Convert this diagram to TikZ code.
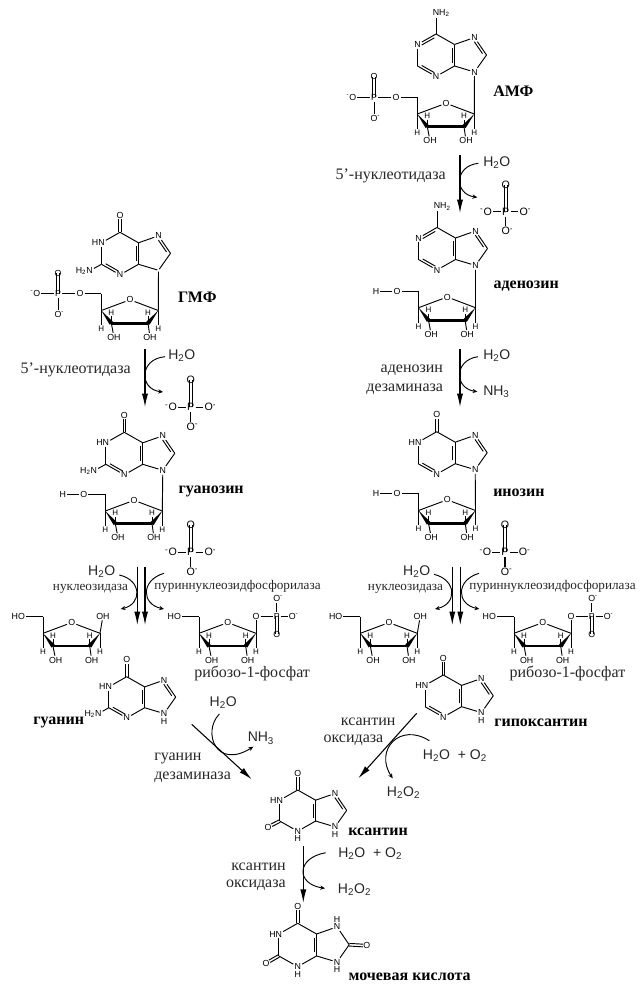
\documentclass[tikz,border=0pt]{standalone}
\usepackage{fontspec}
\setmainfont{Liberation Serif}
\setsansfont{Liberation Sans}
\usetikzlibrary{calc,arrows.meta}
\tikzset{
  bond/.style={line width=0.7pt,black},
  atom/.style={font=\sffamily\fontsize{6.6}{7}\selectfont,inner sep=0.9pt,outer sep=0pt},
  satom/.style={font=\sffamily\fontsize{6}{6.5}\selectfont,inner sep=0.8pt,outer sep=0pt},
  patom/.style={font=\sffamily\fontsize{8}{9}\selectfont,inner sep=1pt,outer sep=0pt},
  enz/.style={font=\fontsize{12}{13}\selectfont,inner sep=0pt,text=black!85},
  smenz/.style={font=\fontsize{9.9}{12}\selectfont,inner sep=0pt,text=black!85},
  molname/.style={font=\bfseries\fontsize{12}{13}\selectfont,inner sep=0pt},
  chem/.style={font=\sffamily\fontsize{10.5}{11}\selectfont,inner sep=0pt,text=black!85},
  rxn/.style={line width=0.8pt,-{Latex[length=10pt,width=4.6pt]}},
  cur/.style={line width=0.7pt,-{Stealth[length=3.6pt,width=3.2pt]}},
}
\newcommand\sbd[2]{\draw[bond] (#1) -- (#2);}
\newcommand\dbd[3]{\draw[bond] (#1) -- (#2);
  \draw[bond] ($(#1)!.16!(#2)!1.9pt!#3:(#2)$) -- ($(#2)!.16!(#1)!1.9pt!-#3:(#1)$);}
\newcommand\twol[3][]{%
  \draw[bond,#1] ($(#2)!1pt!90:(#3)$) -- ($(#3)!1pt!-90:(#2)$);
  \draw[bond,#1] ($(#2)!1pt!-90:(#3)$) -- ($(#3)!1pt!90:(#2)$);}
% ring: prefix x y scale N1 N3 N7 N9
\newcommand\pring[8]{%
  \begin{scope}[shift={(#2,#3)},scale=#4]
    \coordinate (#1C6) at (0,0);
    \coordinate (#1C2) at (-18.5,32);
    \coordinate (#1C4) at (18.5,32);
    \coordinate (#1C5) at (18.5,10.5);
    \coordinate (#1C8) at (50.5,21);
    \node[atom] (#1N1) at (-18.5,10.5) {#5};
    \node[atom] (#1N3) at (0,42.5) {#6};
    \node[atom] (#1N7) at (38.5,3.5) {#7};
    \node[atom] (#1N9) at (38.5,38) {#8};
  \end{scope}
  \sbd{#1N1}{#1C2}\sbd{#1N3}{#1C4}\sbd{#1C5}{#1C6}\sbd{#1C5}{#1N7}
  \sbd{#1C8}{#1N9}\sbd{#1N9}{#1C4}\dbd{#1C4}{#1C5}{90}}
\newcommand\keto[1]{%
  \node[atom] (#1O6) at ($(#1C6)+(0,-17)$) {O};
  \twol[shorten >=3pt]{#1C6}{#1O6}\sbd{#1C6}{#1N1}}
\newcommand\aminosix[1]{%
  \node[atom] (#1A6) at ($(#1C6)+(0,-21)$) {N\rlap{H\textsubscript{2}}};
  \sbd{#1C6}{#1A6}\dbd{#1C6}{#1N1}{90}}
\newcommand\sugarb[3]{%
  \begin{scope}[shift={(#2,#3)}]
    \coordinate (#1c1) at (0,0);
    \coordinate (#1c2) at (-10.3,12.7);
    \coordinate (#1c3) at (-47,12.7);
    \coordinate (#1c4) at (-57,0);
    \coordinate (#1c5) at (-57,-16.7);
    \node[atom] (#1ro) at (-28.3,-10.7) {O};
    \node[satom] (#1h1) at (0,18.7) {H};
    \node[satom] (#1h2) at (-10.3,2) {H};
    \node[satom] (#1h3) at (-47,2) {H};
    \node[satom] (#1h4) at (-57,18.7) {H};
    \node[atom] (#1o2) at (-8.3,26.7) {OH};
    \node[atom] (#1o3) at (-44.3,26.7) {OH};
  \end{scope}
  \sbd{#1c4}{#1ro}\sbd{#1ro}{#1c1}\sbd{#1c4}{#1c5}
  \fill ($(#1c1)$) -- ($(#1c2)+(-1.6,-1.5)$) -- ($(#1c2)+(1.6,1.5)$) -- cycle;
  \fill ($(#1c4)$) -- ($(#1c3)+(1.6,-1.5)$) -- ($(#1c3)+(-1.6,1.5)$) -- cycle;
  \draw[line width=2.2pt,line cap=round] (#1c3) -- (#1c2);
  \sbd{#1c1}{#1h1}\sbd{#1c2}{#1h2}\sbd{#1c3}{#1h3}\sbd{#1c4}{#1h4}
  \sbd{#1c2}{#1o2}\sbd{#1c3}{#1o3}}
% 5'-OH with explicit H
\newcommand\hchain[1]{%
  \node[atom] (#1o5) at ($(#1c5)+(-21.5,0)$) {O};
  \node[atom] (#1hh) at ($(#1c5)+(-42.5,0)$) {H};
  \sbd{#1c5}{#1o5}\sbd{#1o5}{#1hh}}
% free HO at 5'
\newcommand\hochain[1]{%
  \node[atom] (#1o5) at ($(#1c5)+(-21.5,0)$) {\llap{H}O};
  \sbd{#1c5}{#1o5}}
% 5'-phosphate
\newcommand\pchain[1]{%
  \node[atom] (#1o5) at ($(#1c5)+(-21.3,0)$) {O};
  \node[atom] (#1p) at ($(#1c5)+(-43.3,0)$) {P};
  \node[atom] (#1pt) at ($(#1p)+(0,-20.7)$) {O};
  \node[atom] (#1pb) at ($(#1p)+(0,20.7)$) {O\rlap{\textsuperscript{-}}};
  \node[atom] (#1pl) at ($(#1p)+(-21.3,0)$) {\llap{\textsuperscript{-}}O};
  \sbd{#1c5}{#1o5}\sbd{#1o5}{#1p}\sbd{#1p}{#1pb}\sbd{#1p}{#1pl}
  \twol{#1p}{#1pt}}
% free phosphate
\newcommand\phos[3]{%
  \node[patom] (#1p) at (#2,#3) {P};
  \node[patom] (#1t) at (#2,#3-27) {O};
  \node[patom] (#1l) at (#2-18,#3) {\llap{\textsuperscript{-}}O};
  \node[patom] (#1r) at (#2+18,#3) {O\rlap{\textsuperscript{-}}};
  \node[patom] (#1b) at (#2,#3+19.5) {O\rlap{\textsuperscript{-}}};
  \twol{#1p}{#1t}
  \draw[line width=0.8pt] (#1p)--(#1l) (#1p)--(#1r) (#1p)--(#1b);}
% ribose with 1-OH, free
\newcommand\ribfree[3]{%
  \sugarb{#1}{#2}{#3}\hochain{#1}
  \node[atom] (#1oh) at ($(#1c1)+(3,-17.3)$) {OH};
  \sbd{#1c1}{#1oh}}
\newcommand\ribp[3]{%
  \sugarb{#1}{#2}{#3}\hochain{#1}
  \node[atom] (#1oo) at ($(#1c1)+(0,-17.3)$) {O};
  \node[atom] (#1pp) at ($(#1c1)+(20.7,-17.3)$) {P};
  \node[atom] (#1pt) at ($(#1pp)+(0,-17.7)$) {O\rlap{\textsuperscript{-}}};
  \node[atom] (#1pr) at ($(#1pp)+(15.6,0)$) {O\rlap{\textsuperscript{-}}};
  \node[atom] (#1pb) at ($(#1pp)+(0,18)$) {O};
  \sbd{#1c1}{#1oo}\sbd{#1oo}{#1pp}\sbd{#1pp}{#1pt}\sbd{#1pp}{#1pr}
  \twol{#1pp}{#1pb}}
% straight reaction arrow
\newcommand\rarr[5]{%
  \coordinate (#1a) at (#2,#3); \coordinate (#1b) at (#4,#5);
  \draw[rxn] (#1a) -- (#1b);}
% curved side arrow: name, start, c1, c2, end
\newcommand\carr[5]{%
  \coordinate (#1s) at (#2); \coordinate (#1e) at (#5);
  \draw[cur] (#1s) .. controls (#3) and (#4) .. (#1e);}
\begin{document}
\begin{tikzpicture}[x=0.75pt,y=-0.75pt]
\useasboundingbox (0,0) rectangle (643,993);

%% AMP
\pring{a}{436}{34}{1}{N}{N}{N}{N}
\aminosix{a}\dbd{aC2}{aN3}{90}\dbd{aN7}{aC8}{-90}
\sugarb{as}{474.3}{114}\pchain{as}\sbd{aN9}{asc1}
\node[molname,anchor=west] (lamp) at (493,91.5) {АМФ};

\rarr{r1}{460}{155}{460}{213}
\carr{c1}{478.3,163.3}{454,166}{454,194}{477.3,197.3}
\node[chem,anchor=west] (t1w) at (483,162.5) {H\textsubscript{2}O};
\node[enz,anchor=east] (t1e) at (446,176) {5’-нуклеотидаза};
\phos{p1}{505.7}{211.7}

%% Adenosine
\pring{b}{437}{227.5}{1}{N}{N}{N}{N}
\aminosix{b}\dbd{bC2}{bN3}{90}\dbd{bN7}{bC8}{-90}
\sugarb{bs}{475.5}{307.7}\hchain{bs}\sbd{bN9}{bsc1}
\node[molname,anchor=west] (lado) at (493.3,285.7) {аденозин};

\rarr{r2}{460}{349}{460}{407}
\carr{c2}{478,356.7}{454,360}{454,388}{477.3,391.7}
\node[chem,anchor=west] (t2w) at (483,355.7) {H\textsubscript{2}O};
\node[chem,anchor=west] (t2n) at (483,391.7) {NH\textsubscript{3}};
\node[enz,anchor=east] (t2a) at (443.3,370.7) {аденозин};
\node[enz,anchor=east] (t2b) at (443.3,389.3) {дезаминаза};

%% Inosine
\pring{c}{436.7}{431.7}{1}{\llap{H}N}{N}{N}{N}
\keto{c}\dbd{cC2}{cN3}{90}\dbd{cN7}{cC8}{-90}
\sugarb{cs}{475.5}{510.5}\hchain{cs}\sbd{cN9}{csc1}
\node[molname,anchor=west] (lino) at (493,492.7) {инозин};
\phos{p2}{505}{552.3}

%% GMP
\pring{g}{120}{232.3}{1}{\llap{H}N}{N}{N}{}
\node[atom] (gO6) at (120,215) {O};
\twol[shorten >=3pt]{gC6}{gO6}\sbd{gC6}{gN1}
\dbd{gC2}{gN3}{90}\dbd{gN7}{gC8}{-90}
\node[atom] (gA2) at ($(gC2)+(-12,6.5)$) {\llap{H\textsubscript{2}}N};
\sbd{gC2}{gA2}
\sugarb{gs}{158.3}{310.5}\pchain{gs}\sbd{gN9}{gsc1}
\node[molname,anchor=center] (lgmp) at (197.3,297.3) {ГМФ};

\rarr{r3}{145}{349}{145}{407}
\carr{c3}{165,356.7}{139,359}{139,389}{163,392}
\node[chem,anchor=west] (t3w) at (168,356) {H\textsubscript{2}O};
\node[enz,anchor=east] (t3e) at (131,370) {5’-нуклеотидаза};
\phos{p3}{190.7}{407.3}

%% Guanosine
\pring{h}{124.3}{432.3}{1}{\llap{H}N}{N}{N}{N}
\keto{h}\dbd{hC2}{hN3}{90}\dbd{hN7}{hC8}{-90}
\node[atom] (hA2) at ($(hC2)+(-12,6.5)$) {\llap{H\textsubscript{2}}N};
\sbd{hC2}{hA2}
\sugarb{hs}{162.3}{511}\hchain{hs}\sbd{hN9}{hsc1}
\node[molname,anchor=west] (lguo) at (178.3,491.7) {гуанозин};
\phos{p4}{190.7}{552.3}

%% Split arrows, left
\rarr{r4}{137.3}{566.7}{137.3}{625}
\rarr{r5}{145}{566.7}{145}{625}
\carr{c4}{119.3,575}{142,580}{142,604}{120.7,609}
\carr{c5}{164,573.3}{141,580}{141,604}{164,609}
\node[chem,anchor=center] (t4w) at (101.7,572) {H\textsubscript{2}O};
\node[smenz,anchor=west] (t4n) at (52.7,589) {нуклеозидаза};
\node[smenz,anchor=west] (t4p) at (154,586.7) {пуриннуклеозидфосфорилаза};
\ribfree{d}{100}{633.3}
\ribp{e}{256}{633.3}
\node[enz,anchor=west] (t4r) at (194,673.3) {рибозо-1-фосфат};

%% Split arrows, right
\rarr{r6}{452.3}{566.7}{452.3}{625}
\rarr{r7}{460.3}{566.7}{460.3}{625}
\carr{c6}{434,574.3}{457,580}{457,604}{435,609}
\carr{c7}{479,573.3}{456,580}{456,604}{479.3,609}
\node[chem,anchor=center] (t5w) at (416.7,572) {H\textsubscript{2}O};
\node[smenz,anchor=west] (t5n) at (367.7,589) {нуклеозидаза};
\node[smenz,anchor=west] (t5p) at (469,586.7) {пуриннуклеозидфосфорилаза};
\ribfree{f}{417.3}{633.3}
\ribp{i}{571}{633.3}
\node[enz,anchor=west] (t5r) at (509.3,673.3) {рибозо-1-фосфат};

%% Guanine
\pring{j}{126.7}{676.7}{.97}{\llap{H}N}{N}{N}{N}
\keto{j}\dbd{jC2}{jN3}{90}\dbd{jN7}{jC8}{-90}
\node[atom] (jA2) at ($(jC2)+(-10.5,6)$) {\llap{H\textsubscript{2}}N};
\sbd{jC2}{jA2}
\node[atom] (jH9) at ($(jN9)+(0,8.3)$) {H};
\node[molname,anchor=west] (lgua) at (33,722.7) {гуанин};

%% Hypoxanthine
\pring{k}{443.3}{675}{.99}{\llap{H}N}{N}{N}{N}
\keto{k}\dbd{kC2}{kN3}{90}\dbd{kN7}{kC8}{-90}
\node[atom] (kH9) at ($(kN9)+(0,7.5)$) {H};
\node[molname,anchor=west] (lhyp) at (494,722.7) {гипоксантин};

%% Guanine -> xanthine
\rarr{r8}{191.7}{724.3}{251.7}{779.3}
\carr{c8}{219.3,714}{202,732}{216,770}{253.3,746.7}
\node[chem,anchor=center] (t8w) at (223.3,702.7) {H\textsubscript{2}O};
\node[chem,anchor=west] (t8n) at (247.5,738.3) {NH\textsubscript{3}};
\node[enz,anchor=west] (t8a) at (154,758.3) {гуанин};
\node[enz,anchor=west] (t8b) at (154,777.3) {дезаминаза};

%% Hypoxanthine -> xanthine
\rarr{r9}{416.7}{713.3}{358.3}{778.3}
\carr{c9}{429.3,740.7}{400,722}{374,750}{392.7,778.3}
\node[enz,anchor=west] (t9a) at (340.7,721.7) {ксантин};
\node[enz,anchor=west] (t9b) at (323.3,740) {оксидаза};
\node[chem,anchor=west] (t9w) at (422.7,756) {H\textsubscript{2}O\ \ + O\textsubscript{2}};
\node[chem,anchor=west] (t9p) at (386.7,792.3) {H\textsubscript{2}O\textsubscript{2}};

%% Xanthine
\pring{m}{297.7}{790}{.97}{\llap{H}N}{N}{N}{N}
\keto{m}\sbd{mC2}{mN3}\dbd{mN7}{mC8}{-90}
\node[atom] (mO2) at ($(mC2)+(-11.7,6)$) {O};
\twol[shorten >=3pt]{mC2}{mO2}
\node[atom] (mH3) at ($(mN3)+(0,7.5)$) {H};
\node[atom] (mH9) at ($(mN9)+(0,7.5)$) {H};
\node[molname,anchor=west] (lxan) at (348,831.7) {ксантин};

\rarr{r10}{303.3}{846}{303.3}{902.7}
\carr{c10}{325.7,852.7}{296,858}{296,884}{325,888.3}
\node[enz,anchor=east] (t10a) at (286,866.7) {ксантин};
\node[enz,anchor=east] (t10b) at (286,885.7) {оксидаза};
\node[chem,anchor=west] (t10w) at (338,853.3) {H\textsubscript{2}O\ \ + O\textsubscript{2}};
\node[chem,anchor=west] (t10p) at (337.7,890) {H\textsubscript{2}O\textsubscript{2}};

%% Uric acid
\pring{n}{297.7}{923.3}{1.02}{\llap{H}N}{N}{N}{N}
\keto{n}\sbd{nC2}{nN3}\sbd{nN7}{nC8}
\node[atom] (nO2) at ($(nC2)+(-12.7,7.3)$) {O};
\twol[shorten >=3pt]{nC2}{nO2}
\node[atom] (nO8) at ($(nC8)+(17.7,1)$) {O};
\twol[shorten >=3pt]{nC8}{nO8}
\node[atom] (nH3) at ($(nN3)+(0,7.5)$) {H};
\node[atom] (nH7) at ($(nN7)+(0,-7.5)$) {H};
\node[atom] (nH9) at ($(nN9)+(0,7.5)$) {H};
\node[molname,anchor=west] (lur) at (348.3,976.7) {мочевая кислота};
\end{tikzpicture}
\end{document}
